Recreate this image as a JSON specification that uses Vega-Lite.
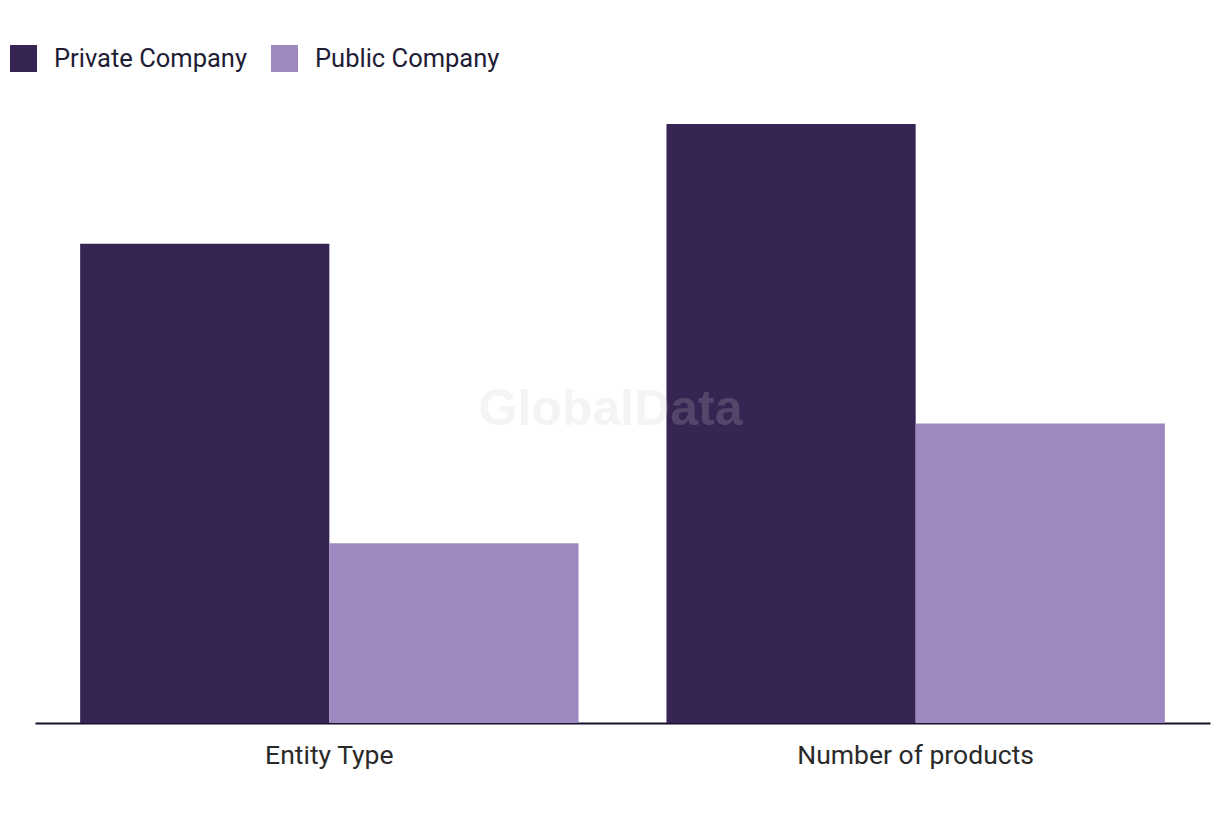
{
  "$schema": "https://vega.github.io/schema/vega-lite/v6.json",
  "autosize": {"type": "none"},
  "padding": {"left": 35, "top": 124, "right": 10, "bottom": 97},
  "width": 1175,
  "height": 599,
  "background": "white",
  "config": {"view": {"stroke": null}},
  "layer": [
    {
      "data": {
        "values": [
          {"category": "Entity Type", "company": "Private Company", "value": 8},
          {"category": "Entity Type", "company": "Public Company", "value": 3},
          {"category": "Number of products", "company": "Private Company", "value": 10},
          {"category": "Number of products", "company": "Public Company", "value": 5}
        ]
      },
      "mark": {"type": "bar"},
      "encoding": {
        "x": {
          "field": "category",
          "type": "nominal",
          "scale": {"paddingInner": 0.15, "paddingOuter": 0.077},
          "axis": {
            "title": null,
            "labelAngle": 0,
            "labelFont": "Roboto",
            "labelFontSize": 26.5,
            "labelLimit": 0,
            "labelColor": "#2a2a2a",
            "labelPadding": 19,
            "ticks": false,
            "domainColor": "#15112a",
            "domainWidth": 2,
            "grid": false
          }
        },
        "xOffset": {
          "field": "company",
          "type": "nominal",
          "scale": {"paddingInner": 0, "paddingOuter": 0}
        },
        "y": {
          "field": "value",
          "type": "quantitative",
          "scale": {"domain": [0, 10], "nice": false},
          "axis": null
        },
        "color": {
          "field": "company",
          "type": "nominal",
          "scale": {"domain": ["Private Company", "Public Company"], "range": ["#362452", "#9f88c0"]},
          "legend": {
            "title": null,
            "orient": "none",
            "direction": "horizontal",
            "legendX": -25,
            "legendY": -79,
            "padding": 0,
            "symbolType": "square",
            "symbolSize": 729,
            "symbolStrokeWidth": 0,
            "symbolOpacity": 1,
            "labelFont": "Roboto",
            "labelFontSize": 25.5,
            "labelLimit": 0,
            "labelColor": "#1f1d36",
            "labelOffset": 17,
            "columnPadding": 24
          }
        }
      }
    },
    {
      "data": {"values": [{"label": "GlobalData"}]},
      "mark": {
        "type": "text",
        "x": {"expr": "width/2"},
        "y": {"expr": "height/2"},
        "dx": -12,
        "dy": -14,
        "font": "Liberation Sans",
        "fontWeight": "bold",
        "fontSize": 50,
        "color": "#cccccc",
        "opacity": 0.2,
        "align": "center",
        "baseline": "middle"
      },
      "encoding": {"text": {"field": "label"}}
    }
  ]
}
